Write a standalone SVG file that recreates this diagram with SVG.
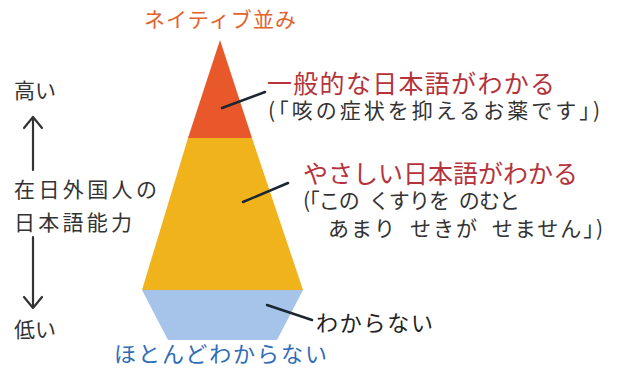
<svg xmlns="http://www.w3.org/2000/svg" width="619" height="377" viewBox="0 0 619 377">
<style>
text{font-family:"Noto Sans CJK JP","Noto Sans",sans-serif;}
.lbl{font-size:25px;fill:#b5333b;}
.ex{font-size:21px;fill:#333;word-spacing:6px;}
.ax{font-size:21px;fill:#333;}
.ld{stroke:#1c2733;stroke-width:2.5;fill:none;stroke-linecap:round;}
.arr{stroke:#333;stroke-width:2.2;fill:none;stroke-linecap:round;stroke-linejoin:round;}
</style>
<rect width="619" height="377" fill="#fff"/>
<g id="pyramid">
  <g id="top-native"><polygon points="220,40 188,138 252,138" fill="#e9582a"/></g>
  <g id="layer-general"><polygon points="188,138 252,138 303,290 142,290" fill="#f1b31b"/></g>
  <g id="layer-none"><polygon points="142,290 303,290 277,340 168,340" fill="#a6c4e9"/></g>
</g>
<g id="connectors">
  <line class="ld" x1="222" y1="108" x2="265" y2="92"/>
  <line class="ld" x1="243" y1="202" x2="288" y2="183"/>
  <line class="ld" x1="267" y1="305" x2="312" y2="320"/>
  <path class="arr" d="M33,170 V117 M24,128 L33,117 L42,128"/>
  <path class="arr" d="M33,237 V308 M24,297 L33,308 L42,297"/>
</g>
<g id="label-native"><text x="220" y="27" text-anchor="middle" font-size="21" fill="#e2632b" textLength="152">ネイティブ並み</text></g>
<g id="label-general">
  <text class="lbl" x="267" y="93" textLength="288">一般的な日本語がわかる</text>
  <text class="ex" x="268" y="118" textLength="332">(「咳の症状を抑えるお薬です」)</text>
</g>
<g id="label-easy">
  <text class="lbl" x="303" y="183" textLength="275">やさしい日本語がわかる</text>
  <text class="ex" x="303" y="208" textLength="217">(「この くすりを のむと</text>
  <text class="ex" x="328" y="236" textLength="275">あまり せきが せません」)</text>
</g>
<g id="label-none">
  <text x="316" y="331" font-size="22" fill="#222" textLength="117">わからない</text>
</g>
<g id="label-almost-none">
  <text x="114" y="362" font-size="22" fill="#2f6db8" textLength="213">ほとんどわからない</text>
</g>
<g id="axis">
  <text class="ax" x="14" y="98">高い</text>
  <text class="ax" x="14" y="197" textLength="143">在日外国人の</text>
  <text class="ax" x="14" y="230" textLength="118">日本語能力</text>
  <text class="ax" x="14" y="337">低い</text>
</g>
</svg>
